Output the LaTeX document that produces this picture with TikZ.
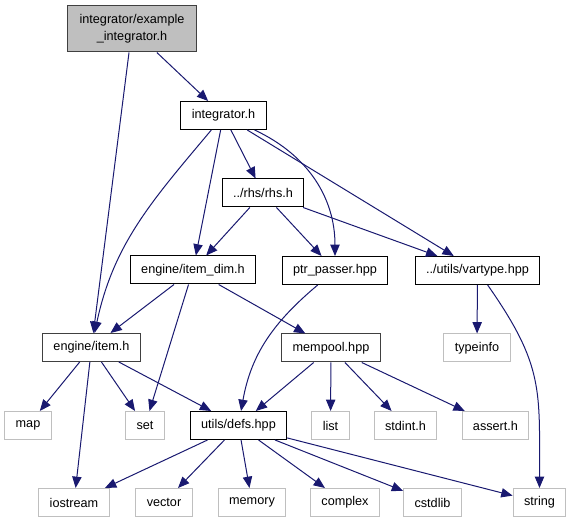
\documentclass[tikz,border=0pt]{standalone}
\usepackage{fontspec}
\setmainfont{Liberation Sans}
\usepackage{tikz}
\usetikzlibrary{arrows.meta}
\usetikzlibrary{positioning}
\definecolor{edgeblue}{HTML}{191970}
\definecolor{grey75}{HTML}{BFBFBF}
\definecolor{grey25}{HTML}{404040}
\tikzstyle{incl}=[rectangle,draw=black,fill=white,inner xsep=8.2pt,inner ysep=0pt,minimum height=21pt,font=\fontsize{9.5}{12.75}\selectfont]
\tikzstyle{sys}=[incl,draw=grey75]
\tikzstyle{dark}=[incl,draw=grey25]
\tikzstyle{root}=[dark,fill=grey75,align=center,minimum height=34.5pt,inner xsep=9pt]
\tikzset{every picture/.style={
    line width=0.75pt
  }
}

\begin{document}
\begin{tikzpicture}[x=0.75pt,y=-0.75pt,>={Triangle[length=8.5pt,width=7pt]}]
        \useasboundingbox (0,0) rectangle (572,523);
        \node[root] at (132,29) (top) {integrator/example\\\_integrator.h};
        \node[incl] at (223.5,115.5) (int) {integrator.h};
        \node[incl] at (263,193) (rhs) {../rhs/rhs.h};
        \node[incl] at (193,270) (dim) {engine/item\_dim.h};
        \node[incl] at (335,270.5) (ptr) {ptr\_passer.hpp};
        \node[incl] at (477.5,270.5) (var) {../utils/vartype.hpp};
        \node[dark] at (91.5,347.5) (item) {engine/item.h};
        \node[dark] at (331,348) (mem) {mempool.hpp};
        \node[sys] at (477,348) (tinfo) {typeinfo};
        \node[sys] at (28,425.5) (map) {map};
        \node[sys] at (145,425.5) (set) {set};
        \node[incl] at (238.5,425.5) (defs) {utils/defs.hpp};
        \node[sys] at (330.5,425.5) (list) {list};
        \node[sys] at (405.5,425.5) (stdint) {stdint.h};
        \node[sys] at (495.5,425.5) (assert) {assert.h};
        \node[sys] at (74,502.5) (iostream) {iostream};
        \node[sys] at (164,502.5) (vector) {vector};
        \node[sys] at (252,502.5) (memory) {memory};
        \node[sys] at (345,502.5) (complex) {complex};
        \node[sys] at (432.5,502.5) (cstdlib) {cstdlib};
        \node[sys] at (539.5,502.5) (string) {string};
        \begin{scope}[draw=edgeblue]
        \draw[->] (top) to (int);
        \draw[->] (top) to (item);
        \draw[->] (int) to[out=-130,in=78] (item);
        \draw[->] (int) to (dim);
        \draw[->] (int) to (rhs);
        \draw[->] (int) to[out=-25,in=90] (ptr);
        \draw[->] (int) to (var);
        \draw[->] (rhs) to (dim);
        \draw[->] (rhs) to (ptr);
        \draw[->] (rhs) to (var);
        \draw[->] (dim) to (item);
        \draw[->] (dim) to (mem);
        \draw[->] (dim) to (set);
        \draw[->] (ptr) to[out=-140,in=80] (defs);
        \draw[->] (var) to (tinfo);
        \draw[->] (var) to[out=-55,in=90,looseness=1.2] (string);
        \draw[->] (item) to (map);
        \draw[->] (item) to (set);
        \draw[->] (item) to (iostream);
        \draw[->] (item) to (defs);
        \draw[->] (mem) to (defs);
        \draw[->] (mem) to (list);
        \draw[->] (mem) to (stdint);
        \draw[->] (mem) to (assert);
        \draw[->] (defs) to (iostream);
        \draw[->] (defs) to (vector);
        \draw[->] (defs) to (memory);
        \draw[->] (defs) to (complex);
        \draw[->] (defs) to (cstdlib);
        \draw[->] (defs) to (string);
        \end{scope}
      \end{tikzpicture}
\end{document}
